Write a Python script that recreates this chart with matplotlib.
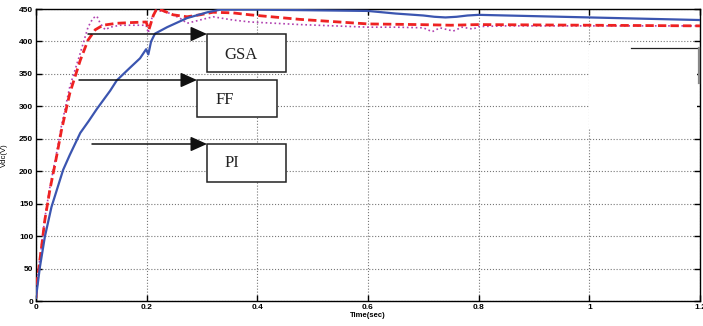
import matplotlib
matplotlib.use("Agg")
import matplotlib.pyplot as plt
from matplotlib.patches import Rectangle, FancyArrowPatch, ArrowStyle
from matplotlib.lines import Line2D

# ---- data ----
t_blue = [0, 0.001, 0.007, 0.016, 0.028, 0.049, 0.061, 0.080, 0.095, 0.110, 0.134, 0.146,
          0.168, 0.188, 0.199, 0.203, 0.208, 0.215, 0.237, 0.273, 0.31, 0.333, 0.40, 0.50,
          0.60, 0.65, 0.70, 0.72, 0.74, 0.76, 0.78, 0.80, 0.90, 1.00, 1.10, 1.20]
v_blue = [5, 12, 52, 99, 145, 202, 225, 259, 277, 296, 324, 340,
          358, 374, 388, 380, 400, 412, 422, 436, 445, 449, 449, 448,
          447, 443, 440, 438, 437, 438, 440, 441, 439, 437, 435, 433]

t_red = [0, 0.002, 0.010, 0.016, 0.025, 0.037, 0.046, 0.061, 0.080, 0.094, 0.107, 0.121,
         0.146, 0.170, 0.199, 0.204, 0.212, 0.218, 0.228, 0.248, 0.273, 0.296, 0.32, 0.356,
         0.387, 0.477, 0.60, 0.69, 0.75, 0.80, 1.0, 1.2]
v_red = [5, 30, 83, 125, 171, 222, 263, 320, 371, 402, 418, 425,
         428, 429, 430, 418, 440, 450, 448, 441, 438, 441, 445, 444,
         441, 434, 427, 426, 425, 426, 425, 424]

t_mag = [0, 0.002, 0.010, 0.016, 0.025, 0.037, 0.046, 0.061, 0.080, 0.094, 0.103, 0.110,
         0.116, 0.125, 0.134, 0.152, 0.199, 0.203, 0.210, 0.218, 0.237, 0.26, 0.273, 0.296,
         0.32, 0.356, 0.387, 0.477, 0.60, 0.65, 0.70, 0.716, 0.73, 0.754, 0.77, 0.79, 0.80,
         0.85, 1.0, 1.2]
v_mag = [5, 32, 86, 128, 175, 227, 270, 330, 382, 422, 436, 439,
         428, 418, 422, 425, 425, 413, 438, 448, 445, 436, 428, 433,
         438, 433, 430, 426, 422, 422, 421, 415, 421, 416, 422, 419, 423,
         424, 424, 424]

x_ticks = [0, 0.2, 0.4, 0.6, 0.8, 1.0, 1.2]
x_ticklabels = ["0", "0.2", "0.4", "0.6", "0.8", "1", "1.2"]
y_ticks = [0, 50, 100, 150, 200, 250, 300, 350, 400, 450]
labels = ["GSA", "FF", "PI"]

W, H = 703, 326
fig = plt.figure(figsize=(W / 100, H / 100), dpi=100)
ax = fig.add_axes([36 / W, 1 - 301 / H, (700 - 36) / W, (301 - 9) / H])

def fx(x):
    return x / W

def fy(y):
    return 1 - y / H

ax.plot(t_red, v_red, color="#ee2222", lw=2.0, ls=(0, (3, 1.5)), zorder=4)
ax.plot(t_mag, v_mag, color="#b040b0", lw=1.2, ls=":", zorder=3)
ax.plot(t_blue, v_blue, color="#3b55b0", lw=1.6, zorder=5)

ax.set_xlim(0, 1.2)
ax.set_ylim(0, 450)
ax.set_xticks(x_ticks)
ax.set_xticklabels(x_ticklabels)
ax.set_yticks(y_ticks)
ax.grid(True, linestyle=":", color="#777777", lw=0.8, zorder=0)
ax.set_axisbelow(True)
ax.tick_params(direction="in", top=True, right=True, length=4, width=1, pad=2,
               labelsize=6)
for lab in ax.get_xticklabels() + ax.get_yticklabels():
    lab.set_fontweight("bold")
    lab.set_family("Liberation Sans")
for s in ax.spines.values():
    s.set_linewidth(1.0)

ax.set_xlabel("Time(sec)", fontsize=5.5, fontweight="bold", family="Liberation Sans", labelpad=1)
ax.set_ylabel("Vdc(V)", fontsize=5.5, family="Liberation Sans", labelpad=8)

# white patch hiding part of the grid on the right
fig.add_artist(Rectangle((fx(589), fy(128)), (697 - 589) / W, (128 - 45) / H,
                         transform=fig.transFigure, facecolor="white", edgecolor="none", zorder=1.5))

# boxes with labels
boxes = [(207, 34, 286, 72, 241, 55), (197, 80, 277, 117, 225, 100), (207, 144, 286, 182, 232, 163)]
for (x0, y0, x1, y1, tx, ty), lab in zip(boxes, labels):
    fig.add_artist(Rectangle((fx(x0), fy(y1)), (x1 - x0) / W, (y1 - y0) / H,
                             transform=fig.transFigure, facecolor="white",
                             edgecolor="#222222", lw=1.1, zorder=6))
    fig.text(fx(tx), fy(ty), lab, ha="center", va="center", fontsize=12,
             family="Liberation Serif", color="#222222", zorder=7)

# arrows
arrows = [(88, 207, 34), (79, 197, 80), (92, 207, 144)]
for xs, xe, yy in arrows:
    fig.add_artist(FancyArrowPatch((fx(xs), fy(yy)), (fx(xe), fy(yy)),
                                   transform=fig.transFigure,
                                   arrowstyle=ArrowStyle("-|>", head_length=10, head_width=4.5),
                                   mutation_scale=1, color="#111111", lw=1.1,
                                   shrinkA=0, shrinkB=0, zorder=8))

# stray marks on the right
fig.add_artist(Line2D([fx(631), fx(699)], [fy(48), fy(48)], transform=fig.transFigure,
                      color="#222222", lw=0.9, zorder=8))
fig.add_artist(Line2D([fx(699), fx(699)], [fy(48), fy(83)], transform=fig.transFigure,
                      color="#888888", lw=1.6, zorder=8))

fig.savefig("out.png", dpi=100)
